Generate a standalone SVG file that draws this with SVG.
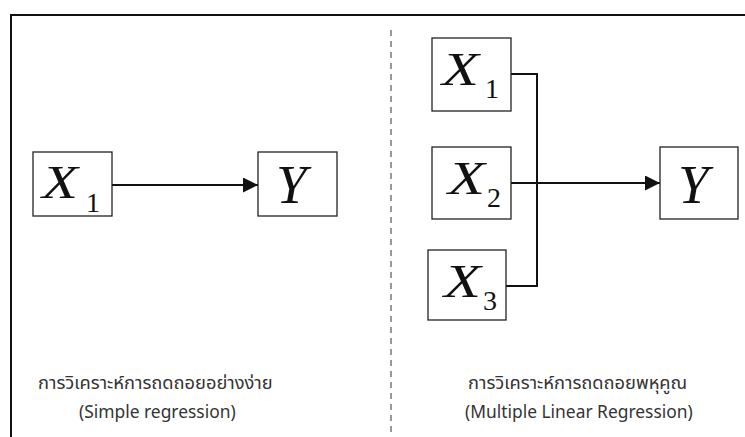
<svg xmlns="http://www.w3.org/2000/svg" width="745" height="437" viewBox="0 0 745 437">
  <style>
    .box { fill: #fff; stroke: #222; stroke-width: 1.3; }
    .var { font-family: "Liberation Serif", "Times New Roman", serif; font-style: italic; fill: #111; }
    .sub { font-family: "Liberation Serif", "Times New Roman", serif; fill: #111; }
    .wire { fill: none; stroke: #111; stroke-width: 2; }
    .cap { font-family: "Noto Sans Thai", "Noto Sans", "Leelawadee UI", sans-serif; fill: #333; }
    .th { font-size: 18.3px; }
    .en { font-size: 17.4px; }
  </style>
  <defs>
    <marker id="head" viewBox="0 0 10 10" refX="10" refY="5" markerWidth="15" markerHeight="15" markerUnits="userSpaceOnUse" orient="auto">
      <path d="M0,0 L10,5 L0,10 Z" fill="#111"/>
    </marker>
  </defs>

  <rect width="745" height="437" fill="#fff"/>

  <!-- outer frame (open to the right and bottom) -->
  <path d="M11,437 V15 H745" fill="none" stroke="#111" stroke-width="2"/>
  <!-- divider between the two panels -->
  <line x1="391" y1="30" x2="391" y2="437" stroke="#333" stroke-width="1" stroke-dasharray="6,5"/>

  <g id="connectors">
    <!-- simple regression -->
    <line class="wire" x1="112" y1="185" x2="258" y2="185" marker-end="url(#head)"/>
    <!-- multiple regression: inputs joined on a bus -->
    <path class="wire" d="M511,74 H537 V286 H506"/>
    <line class="wire" x1="511" y1="183" x2="537" y2="183"/>
    <line class="wire" x1="537" y1="183" x2="660" y2="183" stroke-width="2.5" marker-end="url(#head)"/>
  </g>

  <g id="left-x1">
    <rect class="box" x="33" y="152" width="79" height="64"/>
    <text class="var" x="42" y="198" font-size="46" textLength="36" lengthAdjust="spacingAndGlyphs">X</text>
    <text class="sub" x="86" y="212" font-size="28">1</text>
  </g>
  <g id="left-y">
    <rect class="box" x="258" y="152" width="79" height="64"/>
    <text class="var" x="276" y="203" font-size="55">Y</text>
  </g>

  <g id="right-x1">
    <rect class="box" x="432" y="38" width="79" height="73"/>
    <text class="var" x="442" y="85" font-size="47" textLength="37" lengthAdjust="spacingAndGlyphs">X</text>
    <text class="sub" x="485" y="98" font-size="28">1</text>
  </g>
  <g id="right-x2">
    <rect class="box" x="432" y="147" width="79" height="72"/>
    <text class="var" x="448" y="194" font-size="47" textLength="37" lengthAdjust="spacingAndGlyphs">X</text>
    <text class="sub" x="487" y="207" font-size="28">2</text>
  </g>
  <g id="right-x3">
    <rect class="box" x="428" y="250" width="78" height="70"/>
    <text class="var" x="444" y="297" font-size="47" textLength="37" lengthAdjust="spacingAndGlyphs">X</text>
    <text class="sub" x="483" y="310" font-size="28">3</text>
  </g>
  <g id="right-y">
    <rect class="box" x="660" y="147" width="78" height="72"/>
    <text class="var" x="678" y="203" font-size="55">Y</text>
  </g>

  <g id="captions">
    <text class="cap th" x="38" y="389">การวิเคราะห์การถดถอยอย่างง่าย</text>
    <text class="cap en" x="79" y="418">(Simple regression)</text>
    <text class="cap th" x="468" y="389">การวิเคราะห์การถดถอยพหุคูณ</text>
    <text class="cap en" x="465" y="418">(Multiple Linear Regression)</text>
  </g>
</svg>
